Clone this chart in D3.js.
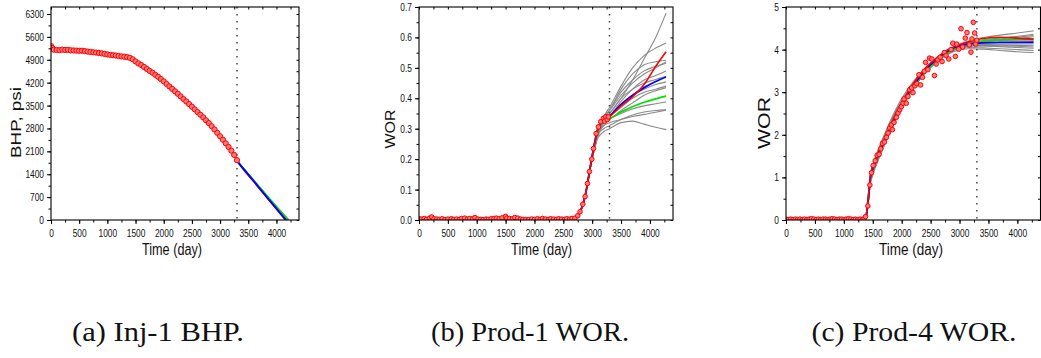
<!DOCTYPE html>
<html lang="en">
<head>
  <meta charset="UTF-8">
  <title>Inj-1 BHP, Prod-1 WOR, Prod-4 WOR</title>
  <script src="https://d3js.org/d3.v7.min.js"></script>
  <style>
    html, body { margin:0; background:#fff; }
    svg { display:block; }
    .frame { fill:none; stroke:#000; stroke-width:1.1px; }
    .axis line { stroke:#000; stroke-width:1px; }
    .axis path { display:none; }
    .axis text { font-family:"Liberation Sans", Arial, sans-serif; font-size:11px; fill:#111; }
    .gray  { fill:none; stroke:#8a8a8a; stroke-width:1.1px; }
    .green { fill:none; stroke:#00e000; stroke-width:1.7px; }
    .blue  { fill:none; stroke:#0000ff; stroke-width:1.8px; }
    .red   { fill:none; stroke:#ff0000; stroke-width:1.6px; }
    .obs   { fill:#ff7a7a; stroke:#ff0000; stroke-width:1px; }
    .cut   { stroke:#444; stroke-width:1.5px; stroke-dasharray:1.5 5.5; }
    .title { font-family:"Liberation Sans", Arial, sans-serif; fill:#111; }
    .caption { font-family:"Liberation Serif", "DejaVu Serif", serif; font-size:28px; fill:#111; }
  </style>
</head>
<body>
<svg id="fig" width="1041" height="358"></svg>
<script>
  // ---- shared ticks ----
  const xTicks = [0, 500, 1000, 1500, 2000, 2500, 3000, 3500, 4000];
  const cutDay = 3300;

  // ---- (a) Inj-1 BHP ----
  const aYTicks = [0, 700, 1400, 2100, 2800, 3500, 4200, 4900, 5600, 6300];
  const aObs = [
    [0,5320],[25,5260],[50,5210],[100,5200],[150,5195],[200,5210],[250,5200],[300,5205],
    [350,5190],[400,5185],[450,5180],[500,5175],[550,5178],[600,5165],[650,5150],[700,5140],
    [750,5130],[800,5120],[850,5110],[900,5095],[950,5080],[1000,5065],[1050,5050],[1100,5040],
    [1150,5030],[1200,5015],[1250,5005],[1300,4995],[1350,4980],[1400,4960],[1450,4915],
    [1500,4850],[1550,4790],[1600,4740],[1650,4680],[1700,4620],[1750,4560],[1800,4505],
    [1850,4440],[1900,4380],[1950,4310],[2000,4240],[2050,4160],[2100,4085],[2150,4010],
    [2200,3935],[2250,3860],[2300,3780],[2350,3700],[2400,3625],[2450,3545],[2500,3465],
    [2550,3385],[2600,3300],[2650,3220],[2700,3140],[2750,3050],[2800,2965],[2850,2870],
    [2900,2770],[2950,2665],[3000,2560],[3050,2455],[3100,2345],[3150,2235],[3200,2120],
    [3250,1990],[3300,1830]
  ];
  const aRedFc   = [[3300,1800],[3600,1170],[3900,540],[4160,0]];
  const aBlue    = [[3300,1800],[3600,1180],[3900,555],[4170,0]];
  const aGreen   = [[3300,1810],[3600,1210],[3900,605],[4210,0]];
  const aGray = [
    [[3300,1805],[3600,1200],[3900,590],[4200,0]],
    [[3300,1800],[3600,1195],[3900,580],[4190,0]],
    [[3300,1810],[3600,1215],[3900,615],[4225,0]]
  ];

  // ---- (b) Prod-1 WOR ----
  const bYTicks = [0, 0.1, 0.2, 0.3, 0.4, 0.5, 0.6, 0.7];
  const bHist = [[0,0],[2650,0],[2700,0.004],[2750,0.012],[2800,0.03],[2850,0.058],[2900,0.10],[2950,0.155]];
  const bDay  = [3000, 3100, 3200, 3300, 3500, 3700, 3900, 4100, 4280];
  const bRed   = [0.21, 0.302, 0.332, 0.34, 0.375, 0.405, 0.445, 0.505, 0.553];
  const bBlue  = [0.21, 0.30, 0.33, 0.342, 0.38, 0.41, 0.435, 0.455, 0.47];
  const bGreen = [0.21, 0.30, 0.325, 0.333, 0.355, 0.372, 0.387, 0.398, 0.407];
  const bGray = [
    [0.21, 0.29, 0.33, 0.35, 0.40, 0.46, 0.53, 0.60, 0.68],
    [0.21, 0.30, 0.34, 0.37, 0.44, 0.50, 0.54, 0.565, 0.582],
    [0.21, 0.29, 0.33, 0.36, 0.43, 0.48, 0.51, 0.52, 0.525],
    [0.21, 0.30, 0.34, 0.36, 0.41, 0.45, 0.48, 0.50, 0.52],
    [0.21, 0.29, 0.32, 0.34, 0.39, 0.43, 0.46, 0.475, 0.49],
    [0.21, 0.29, 0.33, 0.35, 0.40, 0.43, 0.45, 0.462, 0.472],
    [0.20, 0.28, 0.32, 0.34, 0.38, 0.41, 0.43, 0.445, 0.454],
    [0.21, 0.29, 0.32, 0.34, 0.37, 0.40, 0.42, 0.43, 0.44],
    [0.20, 0.28, 0.31, 0.33, 0.35, 0.365, 0.375, 0.382, 0.388],
    [0.20, 0.28, 0.31, 0.32, 0.33, 0.34, 0.347, 0.354, 0.361],
    [0.20, 0.27, 0.29, 0.30, 0.32, 0.325, 0.315, 0.305, 0.297],
    [0.21, 0.29, 0.32, 0.33, 0.36, 0.385, 0.41, 0.425, 0.435],
    [0.21, 0.30, 0.33, 0.36, 0.42, 0.46, 0.49, 0.505, 0.515],
    [0.20, 0.28, 0.30, 0.31, 0.33, 0.345, 0.355, 0.36, 0.362]
  ];
  const bObs = [
    [0,0.004],[40,0.003],[90,0.005],[130,0.002],[180,0.006],[220,0.010],[260,0.004],[310,0.003],
    [350,0.002],[400,0.004],[450,0.001],[500,0.003],[560,0.004],[600,0.002],[650,0.003],[700,0.002],
    [740,0.005],[790,0.006],[840,0.003],[880,0.005],[930,0.004],[970,0.008],[1020,0.003],[1070,0.002],
    [1110,0.001],[1160,0.003],[1200,0.002],[1250,0.004],[1300,0.005],[1340,0.006],[1390,0.004],
    [1440,0.007],[1500,0.012],[1520,0.006],[1570,0.005],[1620,0.004],[1660,0.008],[1710,0.006],
    [1760,0.003],[1800,0.002],[1850,0.002],[1900,0.001],[1950,0.003],[2000,0.002],[2050,0.004],
    [2100,0.002],[2140,0.005],[2190,0.003],[2240,0.002],[2280,0.004],[2330,0.003],[2380,0.002],
    [2420,0.004],[2470,0.003],[2520,0.002],[2560,0.004],[2610,0.003],[2650,0.005],[2700,0.006],
    [2750,0.014],[2790,0.027],[2837,0.052],[2878,0.077],[2918,0.120],[2952,0.159],[2993,0.200],
    [3022,0.235],[3068,0.284],[3108,0.306],[3148,0.323],[3194,0.334],[3215,0.325],[3235,0.339],
    [3260,0.330],[3281,0.339]
  ];

  // ---- (c) Prod-4 WOR ----
  const cYTicks = [0, 1, 2, 3, 4, 5];
  const cHist = [[0,0],[1350,0]];
  const cDay  = [1380, 1420, 1460, 1500, 1600, 1700, 1800, 1900, 2000, 2200, 2400, 2600, 2800, 3000, 3200, 3400, 3700, 4000, 4280];
  const cBlue  = [0.05,0.45,1.00,1.20,1.55,1.85,2.15,2.45,2.70,3.15,3.50,3.77,3.97,4.09,4.14,4.16,4.17,4.17,4.17];
  const cRed   = [0.06,0.50,1.05,1.25,1.60,1.90,2.20,2.50,2.75,3.20,3.55,3.80,4.00,4.12,4.20,4.26,4.29,4.27,4.24];
  const cGreen = [0.05,0.50,1.02,1.22,1.55,1.83,2.10,2.40,2.65,3.10,3.45,3.72,3.93,4.06,4.15,4.20,4.23,4.24,4.25];
  const cGray = [
    [0.04,0.40,0.95,1.15,1.50,1.80,2.10,2.40,2.65,3.10,3.48,3.77,3.98,4.12,4.22,4.28,4.34,4.39,4.44],
    [0.05,0.45,1.05,1.28,1.65,1.98,2.28,2.56,2.80,3.22,3.55,3.80,3.98,4.09,4.15,4.18,4.22,4.26,4.30],
    [0.03,0.35,0.85,1.05,1.42,1.75,2.05,2.35,2.62,3.08,3.44,3.72,3.92,4.04,4.10,4.12,4.13,4.13,4.13],
    [0.05,0.48,1.08,1.30,1.68,2.00,2.32,2.60,2.85,3.25,3.56,3.79,3.95,4.05,4.09,4.10,4.09,4.08,4.06],
    [0.04,0.42,0.98,1.18,1.52,1.82,2.12,2.42,2.68,3.12,3.47,3.73,3.92,4.02,4.05,4.04,4.02,4.00,3.98],
    [0.04,0.38,0.90,1.10,1.46,1.76,2.08,2.38,2.64,3.10,3.45,3.70,3.89,3.99,4.02,4.01,3.98,3.95,3.93],
    [0.05,0.46,1.04,1.25,1.60,1.92,2.22,2.52,2.78,3.20,3.52,3.77,3.96,4.08,4.15,4.20,4.25,4.29,4.33],
    [0.03,0.36,0.88,1.08,1.45,1.80,2.15,2.47,2.72,3.15,3.50,3.77,3.97,4.10,4.16,4.19,4.21,4.22,4.22],
    [0.05,0.44,1.00,1.20,1.55,1.88,2.20,2.50,2.74,3.17,3.50,3.76,3.95,4.07,4.12,4.15,4.17,4.18,4.19],
    [0.04,0.40,0.94,1.14,1.48,1.78,2.08,2.38,2.63,3.09,3.46,3.74,3.94,4.06,4.11,4.12,4.11,4.10,4.09],
    [0.05,0.47,1.06,1.27,1.62,1.95,2.26,2.55,2.79,3.21,3.53,3.79,3.98,4.11,4.18,4.23,4.27,4.31,4.36],
    [0.04,0.41,0.96,1.16,1.50,1.83,2.14,2.44,2.70,3.14,3.49,3.75,3.94,4.05,4.08,4.08,4.07,4.05,4.03]
  ];
  const cObs = [
    [0,0.02],[40,0.01],[80,0.02],[120,0.01],[160,0.02],[200,0.01],[240,0.02],[280,0.01],[320,0.02],
    [360,0.01],[400,0.02],[440,0.03],[480,0.02],[520,0.01],[560,0.02],[600,0.01],[640,0.02],[680,0.02],
    [720,0.01],[760,0.02],[800,0.03],[840,0.02],[880,0.01],[920,0.02],[960,0.02],[1000,0.01],
    [1040,0.02],[1080,0.03],[1120,0.02],[1160,0.01],[1200,0.02],[1240,0.01],[1280,0.02],[1320,0.01],
    [1350,0.03],[1375,0.08],[1415,0.33],[1450,0.82],[1478,1.11],[1507,1.28],[1542,1.39],[1576,1.52],
    [1610,1.54],[1639,1.67],[1668,1.80],[1702,1.83],[1736,1.94],[1765,2.04],[1794,2.16],[1822,2.23],
    [1840,2.12],[1868,2.29],[1908,2.41],[1937,2.51],[1966,2.59],[1994,2.66],[2023,2.74],[2040,2.84],
    [2080,2.74],[2109,2.90],[2138,3.06],[2172,3.10],[2195,2.99],[2229,3.15],[2264,3.20],[2298,3.41],
    [2327,3.17],[2361,3.35],[2390,3.49],[2413,3.70],[2453,3.53],[2481,3.80],[2521,3.78],[2567,3.39],
    [2596,3.66],[2625,3.76],[2665,3.82],[2699,3.72],[2739,3.93],[2768,3.86],[2814,3.78],[2854,4.00],
    [2883,4.15],[2928,3.84],[2951,4.13],[2986,4.01],[3026,4.49],[3054,4.06],[3100,4.27],[3129,4.40],
    [3169,4.11],[3198,3.94],[3215,4.25],[3238,4.64],[3262,4.39],[3280,4.13],[3298,4.22]
  ];

  // ---- layout ----
  const svg = d3.select("#fig");
  const yTop = 7, yBot = 220;
  const squeezeK = 0.76;

  function squeeze(sel, k) {
    sel.each(function() {
      const w = this.getComputedTextLength();
      d3.select(this).attr("textLength", w * k).attr("lengthAdjust", "spacingAndGlyphs");
    });
  }

  const line = (x, y) => d3.line().x(d => x(d[0])).y(d => y(d[1])).curve(d3.curveMonotoneX);
  const onGrid = (days, vals) => days.map((d, i) => [d, vals[i]]);

  function panel(p) {
    const x = d3.scaleLinear().domain([0, 4400]).range([p.left, p.right]);
    const y = d3.scaleLinear().domain([0, p.yMax]).range([yBot, yTop]);
    const g = svg.append("g");

    g.append("clipPath").attr("id", "clip-" + p.id)
      .append("rect").attr("x", p.left).attr("y", yTop)
      .attr("width", p.right - p.left).attr("height", yBot - yTop);
    const plot = g.append("g").attr("clip-path", `url(#clip-${p.id})`);

    const ln = line(x, y);
    const draw = (data, cls) => plot.append("path").datum(data).attr("class", cls).attr("d", ln);

    p.gray.forEach(s => draw(s, "gray"));
    draw(p.green, "green");
    if (p.redFirst) { draw(p.red, "red"); draw(p.blue, "blue"); }
    else { draw(p.blue, "blue"); draw(p.red, "red"); }

    plot.append("line").attr("class", "cut")
      .attr("x1", x(cutDay)).attr("x2", x(cutDay)).attr("y1", yTop).attr("y2", yBot);

    plot.selectAll("circle.obs").data(p.obs).join("circle")
      .attr("class", "obs").attr("r", p.r)
      .attr("cx", d => x(d[0])).attr("cy", d => y(d[1]));

    // axes
    const xMinor = d3.range(0, 4400, 250);
    const yMinor = d3.range(0, p.yMax, p.yStep / 2);

    g.append("g").attr("class", "axis").attr("transform", `translate(0,${yBot})`)
      .call(d3.axisBottom(x).tickValues(xMinor).tickSize(2.5).tickFormat(""));
    const xa = g.append("g").attr("class", "axis").attr("transform", `translate(0,${yBot})`)
      .call(d3.axisBottom(x).tickValues(xTicks).tickSize(4).tickPadding(5).tickFormat(d3.format("d")));
    g.append("g").attr("class", "axis").attr("transform", `translate(0,${yTop})`)
      .call(d3.axisBottom(x).tickValues(xMinor).tickSize(2.5).tickFormat(""));

    g.append("g").attr("class", "axis").attr("transform", `translate(${p.left},0)`)
      .call(d3.axisLeft(y).tickValues(yMinor).tickSize(2.5).tickFormat(""));
    const ya = g.append("g").attr("class", "axis").attr("transform", `translate(${p.left},0)`)
      .call(d3.axisLeft(y).tickValues(p.yTicks).tickSize(4).tickPadding(3).tickFormat(d3.format(p.fmt)));
    g.append("g").attr("class", "axis").attr("transform", `translate(${p.right},0)`)
      .call(d3.axisLeft(y).tickValues(yMinor).tickSize(2.5).tickFormat(""));

    xa.selectAll("text").attr("font-size", 11).attr("font-family", null);
    ya.selectAll("text").attr("font-size", 11).attr("font-family", null);
    squeeze(xa.selectAll("text"), squeezeK);
    squeeze(ya.selectAll("text"), squeezeK);

    g.append("rect").attr("class", "frame")
      .attr("x", p.left).attr("y", yTop).attr("width", p.right - p.left).attr("height", yBot - yTop);

    // titles
    g.append("text").attr("class", "title")
      .attr("x", p.xtX).attr("y", 254.5).attr("text-anchor", "middle")
      .attr("font-size", 16).attr("textLength", p.xtLen).attr("lengthAdjust", "spacingAndGlyphs")
      .text("Time (day)");
    g.append("text").attr("class", "title")
      .attr("transform", `translate(${p.ytX},${p.ytY}) rotate(-90)`)
      .attr("text-anchor", "middle").attr("font-size", p.ytSize)
      .attr("textLength", p.ytLen).attr("lengthAdjust", "spacingAndGlyphs")
      .text(p.ytitle);

    g.append("text").attr("class", "caption")
      .attr("x", p.capX).attr("y", 341).attr("text-anchor", "middle")
      .attr("textLength", p.capLen).attr("lengthAdjust", "spacingAndGlyphs")
      .text(p.caption);
  }

  panel({
    id: "a", left: 51, right: 299, yMax: 6514, yStep: 700, yTicks: aYTicks, fmt: "d", r: 2.6,
    gray: aGray, green: aGreen, blue: aBlue, red: aObs.concat(aRedFc.slice(1)), obs: aObs, redFirst: true,
    xtX: 172, xtLen: 60, ytitle: "BHP, psi", ytX: 20.5, ytY: 122.5, ytSize: 15, ytLen: 71,
    caption: "(a) Inj-1 BHP.", capX: 158, capLen: 172
  });

  panel({
    id: "b", left: 419, right: 673, yMax: 0.7, yStep: 0.1, yTicks: bYTicks, fmt: ".1f", r: 2.3,
    gray: bGray.map(v => bHist.concat(onGrid(bDay, v))),
    green: bHist.concat(onGrid(bDay, bGreen)),
    blue: bHist.concat(onGrid(bDay, bBlue)),
    red: bHist.concat(onGrid(bDay, bRed)),
    obs: bObs,
    xtX: 541.5, xtLen: 61, ytitle: "WOR", ytX: 395, ytY: 129, ytSize: 15.5, ytLen: 39,
    caption: "(b) Prod-1 WOR.", capX: 530, capLen: 198
  });

  panel({
    id: "c", left: 786, right: 1040.5, yMax: 5, yStep: 1, yTicks: cYTicks, fmt: "d", r: 2.3,
    gray: cGray.map(v => cHist.concat(onGrid(cDay, v))),
    green: cHist.concat(onGrid(cDay, cGreen)),
    blue: cHist.concat(onGrid(cDay, cBlue)),
    red: cHist.concat(onGrid(cDay, cRed)),
    obs: cObs,
    xtX: 911, xtLen: 64, ytitle: "WOR", ytX: 770, ytY: 123, ytSize: 16, ytLen: 52,
    caption: "(c) Prod-4 WOR.", capX: 914, capLen: 205
  });
</script>
</body>
</html>
